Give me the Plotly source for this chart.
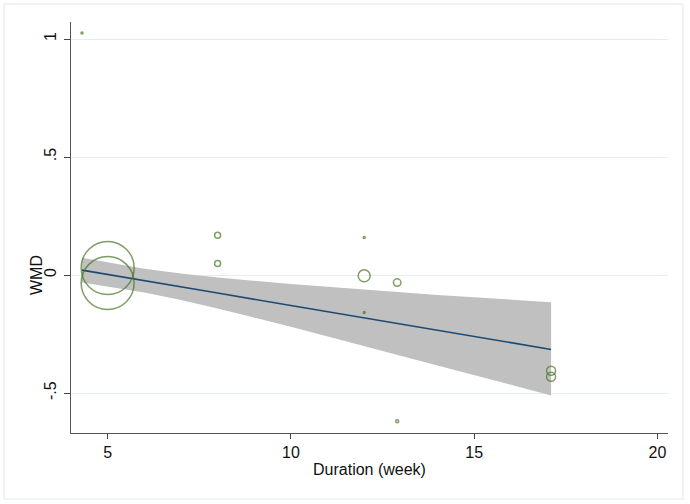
import plotly.graph_objects as go

# Study points (duration in weeks, WMD, bubble diameter in px ~ weight)
duration = [4.3, 5, 5, 8, 8, 12, 12, 12, 12.9, 12.9, 17.1, 17.1]
wmd = [1.025, 0.03, -0.034, 0.169, 0.049, 0.159, -0.003, -0.159, -0.032, -0.619, -0.405, -0.431]
bubble = [2, 53, 53, 6, 6, 2, 12, 2, 7.5, 3, 9, 9]

# Fitted meta-regression line and its confidence band
fit_x = [4.3, 5, 6, 7, 8, 10, 12, 14, 17.1]
fit_y = [0.021, 0.003, -0.024, -0.050, -0.076, -0.129, -0.181, -0.234, -0.315]
ci_upper = [0.073, 0.053, 0.027, 0.007, -0.010, -0.038, -0.062, -0.084, -0.115]
ci_lower = [-0.031, -0.047, -0.074, -0.106, -0.142, -0.219, -0.300, -0.383, -0.510]

x_ticks = [5, 10, 15, 20]
y_ticks = [-0.5, 0, 0.5, 1]
y_ticklabels = ["-.5", "0", ".5", "1"]

FONT = "Liberation Sans, Arial, sans-serif"

fig = go.Figure()

fig.add_trace(go.Scatter(
    x=fit_x + fit_x[::-1],
    y=ci_upper + ci_lower[::-1],
    fill="toself", fillcolor="#c0c0c0",
    line=dict(width=0), mode="lines", hoverinfo="skip", showlegend=False,
))

fig.add_trace(go.Scatter(
    x=fit_x, y=fit_y, mode="lines",
    line=dict(color="#1d4a72", width=1.6), showlegend=False,
))

fig.add_trace(go.Scatter(
    x=duration, y=wmd, mode="markers",
    marker=dict(symbol="circle-open", size=bubble, color="#467524",
                line=dict(color="#467524", width=1.5)),
    showlegend=False,
))

fig.update_layout(
    width=690, height=504,
    margin=dict(l=71, r=22, t=22, b=71),
    paper_bgcolor="white", plot_bgcolor="white",
    font=dict(family=FONT, size=16, color="#111111"),
    xaxis=dict(
        range=[4.0, 20.29], tickvals=x_ticks, ticks="outside", ticklen=5,
        tickcolor="#444444", showline=True, linecolor="#555555", linewidth=1.2,
        showgrid=False, zeroline=False, automargin=False,
        tickfont=dict(size=16),
    ),
    yaxis=dict(
        range=[-0.669, 1.072], tickvals=y_ticks, ticktext=y_ticklabels,
        ticks="outside", ticklen=6, tickcolor="#444444", tickangle=-90,
        ticklabelstandoff=2,
        showline=True, linecolor="#555555", linewidth=1.2,
        showgrid=True, gridcolor="#e4eef0", gridwidth=1, zeroline=False,
        automargin=False, tickfont=dict(size=16),
    ),
    annotations=[
        dict(text="Duration (week)", xref="paper", yref="paper", x=0.5, y=-0.09,
             xanchor="center", yanchor="middle", showarrow=False, font=dict(size=16)),
        dict(text="WMD", xref="paper", yref="paper", x=-0.0586, y=0.3844, textangle=-90,
             xanchor="center", yanchor="middle", showarrow=False, font=dict(size=16)),
    ],
    shapes=[dict(
        type="rect", xref="paper", yref="paper",
        x0=-0.1122, x1=1.0251, y0=-0.1606, y1=1.0438,
        line=dict(color="#e2e8ea", width=1), fillcolor="rgba(0,0,0,0)", layer="below",
    )],
)

fig.write_html("out.html", config={"displayModeBar": False},
               post_script="document.body.style.margin='0';document.body.style.overflow='hidden';")
